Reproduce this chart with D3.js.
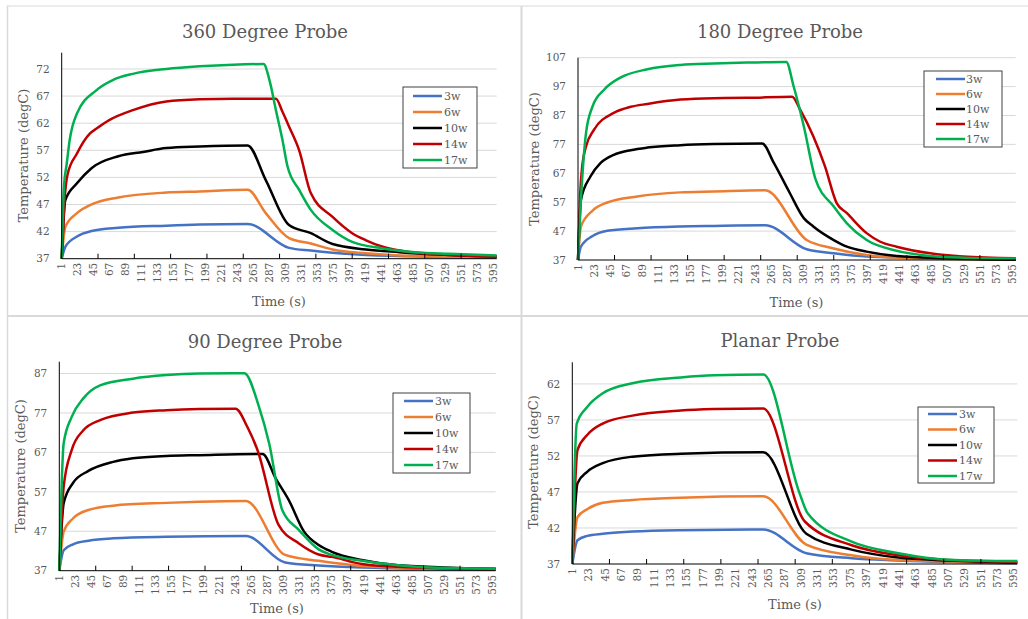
<!DOCTYPE html>
<html><head><meta charset="utf-8">
<script src="https://cdn.jsdelivr.net/npm/d3@7"></script>
<style>
body{margin:0;background:#fff}
svg{display:block}
text{font-family:"DejaVu Serif",serif;fill:#595959}
</style>
</head><body>
<svg id="c" width="1028" height="619"></svg>
<script>
// ---------- data ----------
const seriesNames = ["3w", "6w", "10w", "14w", "17w"];
const seriesColors = ["#4472C4", "#ED7D31", "#000000", "#C00000", "#00B050"];
const xTickLabels = [1,23,45,67,89,111,133,155,177,199,221,243,265,287,309,331,353,375,397,419,441,463,485,507,529,551,573,595];
const xTickMarks = [51,101,151,201,251,301,351,401,451,501,551];
const yTicks360 = [37,42,47,52,57,62,67,72];
const yTicks180 = [37,47,57,67,77,87,97,107];
const yTicks90 = [37,47,57,67,77,87];
const yTicksPlanar = [37,42,47,52,57,62];

// [time (s), temperature (degC)]
const probe360_3w = [[1,37],[6,39.2],[22,41.1],[42,42.1],[79,42.7],[145,43.1],[191,43.3],[257,43.4],[314,39],[344,38.5],[374,38.1],[420,37.7],[600,37.2]];
const probe360_6w = [[1,37],[6,42.9],[22,45.4],[42,47],[79,48.3],[145,49.2],[191,49.4],[257,49.7],[282,45.4],[314,40.8],[344,39.8],[374,38.7],[420,38],[466,37.6],[600,37.25]];
const probe360_10w = [[1,37],[6,47.8],[22,50.9],[42,53.7],[79,55.9],[113,56.7],[145,57.4],[191,57.7],[257,57.9],[282,51.5],[314,43.2],[344,41.7],[374,39.7],[420,38.7],[466,38.2],[511,37.8],[600,37.4]];
const probe360_14w = [[1,37],[5,48],[9,52.5],[22,56.4],[40,60.1],[49,61],[67,62.6],[99,64.4],[145,66],[191,66.4],[237,66.5],[296,66.5],[305,64.1],[314,61.4],[328,57],[344,49.1],[374,44.7],[401,41.7],[420,40.4],[443,39.2],[488,38.1],[534,37.7],[600,37.4]];
const probe360_17w = [[1,37],[4,50],[8,54.6],[12,58.9],[22,63.8],[49,68.1],[72,70],[99,71.1],[145,72],[191,72.5],[237,72.8],[279,72.9],[287,70],[296,64.4],[305,58.9],[312,54],[328,49.7],[344,46],[374,42.3],[401,40.1],[443,38.9],[488,38.2],[534,37.9],[600,37.6]];

const probe180_3w = [[1,37],[5,41.6],[21,45.3],[41,47.1],[82,48],[141,48.6],[187,48.8],[257,49],[314,40.7],[351,39.3],[396,38.2],[600,37.1]];
const probe180_6w = [[1,37],[5,48.6],[21,54.1],[41,56.9],[82,59],[141,60.4],[187,60.7],[257,61.1],[314,43.9],[351,41],[396,38.7],[437,37.8],[600,37.1]];
const probe180_10w = [[1,37],[5,57.8],[18,65.9],[32,70.6],[50,73.4],[73,75],[96,75.9],[141,76.7],[187,77.1],[253,77.3],[269,70.6],[291,60.1],[310,51.5],[323,48.6],[351,43.9],[369,41.6],[396,39.9],[437,38.4],[505,37.6],[600,37.1]];
const probe180_14w = [[1,37],[4,60],[7,70],[12,76.3],[23,82.1],[50,87.9],[73,90],[96,91],[141,92.5],[187,93],[232,93.1],[294,93.5],[305,89],[323,79.8],[339,69.4],[355,56.7],[369,53.2],[396,46.3],[414,43.4],[437,41.6],[483,39.3],[528,38.2],[600,37.6]];
const probe180_17w = [[1,37],[5,57.8],[12,81],[21,90.2],[37,96],[59,100.1],[96,103],[141,104.5],[187,105],[232,105.3],[286,105.5],[296,97.2],[310,83.3],[326,65],[351,55.5],[369,49.7],[396,43.9],[437,40.2],[483,38.4],[528,37.8],[600,37.5]];

const probe90_3w = [[1,37],[7,42.2],[20,43.7],[41,44.6],[75,45.2],[148,45.6],[257,45.8],[311,39.1],[357,38.3],[416,37.8],[600,37.25]];
const probe90_6w = [[1,37],[7,46.9],[20,50.3],[41,52.4],[75,53.5],[148,54.2],[193,54.5],[257,54.7],[311,41],[357,39.5],[416,38.2],[466,37.8],[600,37.3]];
const probe90_10w = [[1,37],[7,54.1],[20,59.3],[41,62.3],[75,64.6],[102,65.5],[148,66.1],[193,66.3],[280,66.6],[298,60.4],[316,54.9],[337,46.9],[357,43.5],[375,41.8],[416,39.7],[466,38.4],[600,37.5]];
const probe90_14w = [[1,37],[7,58.3],[18,67.6],[34,72.6],[57,75.2],[102,77.1],[148,77.7],[193,78],[243,78.1],[259,73.5],[273,67.6],[302,48.6],[330,43.9],[357,41.1],[375,40.5],[416,38.7],[466,38],[600,37.4]];
const probe90_17w = [[1,37],[7,69.3],[18,76],[34,80.7],[57,84],[102,85.7],[148,86.6],[193,87],[255,87.1],[275,78.6],[289,69.3],[307,52.4],[330,47.3],[357,42.4],[375,41],[416,39.5],[466,38.4],[512,37.8],[600,37.5]];

const planar_3w = [[1,37],[8,40.3],[21,40.9],[42,41.2],[82,41.5],[147,41.7],[258,41.8],[316,38.5],[377,37.8],[440,37.5],[600,37.1]];
const planar_6w = [[1,37],[8,43.5],[21,44.6],[42,45.5],[82,45.9],[147,46.2],[258,46.4],[316,39.7],[377,38.2],[440,37.55],[600,37.2]];
const planar_10w = [[1,37],[8,48.2],[21,49.8],[42,51],[82,51.9],[147,52.3],[258,52.5],[316,41.2],[377,39],[440,37.9],[507,37.5],[600,37.2]];
const planar_14w = [[1,37],[8,52.8],[21,54.9],[42,56.5],[82,57.6],[147,58.3],[192,58.5],[258,58.6],[314,42.9],[377,39.6],[440,38.2],[507,37.55],[600,37.3]];
const planar_17w = [[1,37],[7,56.5],[21,58.8],[42,60.7],[82,62.1],[147,62.9],[192,63.2],[258,63.3],[307,46.8],[318,44],[377,40.1],[440,38.5],[507,37.6],[600,37.4]];

// ---------- layout ----------
const panels = [
  {title:"360 Degree Probe", tx:265, ty:38, x0:61.7, x1:496.7, yTop:52.7, yBot:258.7, yMax:75, ticks:yTicks360,
   series:[probe360_3w,probe360_6w,probe360_10w,probe360_14w,probe360_17w],
   leg:{x:403,y:87,w:74,h:81,row0:96,step:16,lx0:413,lx1:442,tx:444}, ytx:23.5, yty:155.5, xtx:279, xty:306},
  {title:"180 Degree Probe", tx:780, ty:38, x0:578, x1:1015.7, yTop:57.7, yBot:260, yMax:107, ticks:yTicks180,
   series:[probe180_3w,probe180_6w,probe180_10w,probe180_14w,probe180_17w],
   leg:{x:924,y:71,w:78,h:76,row0:79,step:15,lx0:936,lx1:965,tx:966}, ytx:534, yty:159, xtx:796.5, xty:307},
  {title:"90 Degree Probe", tx:265, ty:348, x0:59.3, x1:495.7, yTop:361.7, yBot:570.7, yMax:90, ticks:yTicks90,
   series:[probe90_3w,probe90_6w,probe90_10w,probe90_14w,probe90_17w],
   leg:{x:393,y:393,w:77,h:80,row0:401,step:16,lx0:404,lx1:433,tx:435}, ytx:20, yty:466, xtx:277, xty:613},
  {title:"Planar Probe", tx:780, ty:347, x0:572.3, x1:1017.3, yTop:362.3, yBot:564, yMax:65, ticks:yTicksPlanar,
   series:[planar_3w,planar_6w,planar_10w,planar_14w,planar_17w],
   leg:{x:918,y:407,w:76,h:76,row0:414,step:15.5,lx0:928,lx1:957,tx:959}, ytx:533.5, yty:462, xtx:795, xty:609}
];

const svg = d3.select("#c");
svg.append("rect").attr("width",1028).attr("height",619).attr("fill","#fff");

// panel borders
const bc = "#D9D9D9";
svg.append("line").attr("x1",7).attr("x2",1028).attr("y1",6).attr("y2",6).attr("stroke",bc).attr("stroke-width",1.2);
svg.append("line").attr("x1",7).attr("x2",1028).attr("y1",316).attr("y2",316).attr("stroke",bc).attr("stroke-width",2);
svg.append("line").attr("x1",7.5).attr("x2",7.5).attr("y1",6).attr("y2",619).attr("stroke",bc).attr("stroke-width",1.5);
svg.append("line").attr("x1",521.5).attr("x2",521.5).attr("y1",6).attr("y2",619).attr("stroke",bc).attr("stroke-width",2);

panels.forEach(p => {
  const g = svg.append("g");
  const x = d3.scaleLinear().domain([1,600]).range([p.x0,p.x1]);
  const y = d3.scaleLinear().domain([37,p.yMax]).range([p.yBot,p.yTop]);

  // gridlines
  g.selectAll(".grid").data(p.ticks.filter(t=>t>37)).join("line")
    .attr("x1",p.x0).attr("x2",p.x1).attr("y1",d=>y(d)).attr("y2",d=>y(d))
    .attr("stroke","#D9D9D9").attr("stroke-width",1);

  // y tick labels
  g.selectAll(".yl").data(p.ticks).join("text")
    .attr("x",p.x0-12).attr("y",d=>y(d)).attr("dy","0.35em")
    .attr("text-anchor","end").attr("font-size",10.5).text(d=>d);

  // x tick labels
  g.selectAll(".xl").data(xTickLabels).join("text")
    .attr("transform",d=>`translate(${x(d)},${p.yBot+4}) rotate(-90)`)
    .attr("dy","0.35em").attr("text-anchor","end").attr("font-size",10.5).text(d=>d);

  // series lines
  const line = d3.line().x(d=>x(d[0])).y(d=>y(d[1])).curve(d3.curveMonotoneX);
  p.series.forEach((s,i)=>{
    g.append("path").attr("d",line(s)).attr("fill","none")
      .attr("stroke",seriesColors[i]).attr("stroke-width",2.5).attr("stroke-linejoin","round");
  });

  // axes
  g.append("line").attr("x1",p.x0).attr("x2",p.x0).attr("y1",p.yTop).attr("y2",p.yBot)
    .attr("stroke","#000").attr("stroke-width",1);
  g.append("line").attr("x1",p.x0).attr("x2",p.x1).attr("y1",p.yBot).attr("y2",p.yBot)
    .attr("stroke","#000").attr("stroke-width",1);
  g.selectAll(".tm").data(xTickMarks).join("line")
    .attr("x1",d=>x(d)).attr("x2",d=>x(d)).attr("y1",p.yBot).attr("y2",p.yBot-5)
    .attr("stroke","#000").attr("stroke-width",1);

  // titles
  g.append("text").attr("x",p.tx).attr("y",p.ty).attr("text-anchor","middle")
    .attr("font-size",18).text(p.title);
  g.append("text").attr("transform",`translate(${p.ytx},${p.yty}) rotate(-90)`)
    .attr("dy","0.35em").attr("text-anchor","middle").attr("font-size",13).text("Temperature (degC)");
  g.append("text").attr("x",p.xtx).attr("y",p.xty).attr("text-anchor","middle")
    .attr("font-size",13).text("Time (s)");

  // legend
  const L = p.leg;
  g.append("rect").attr("x",L.x).attr("y",L.y).attr("width",L.w).attr("height",L.h)
    .attr("fill","#fff").attr("stroke","#404040").attr("stroke-width",1);
  seriesNames.forEach((n,i)=>{
    const ry = L.row0 + i*L.step;
    g.append("line").attr("x1",L.lx0).attr("x2",L.lx1).attr("y1",ry).attr("y2",ry)
      .attr("stroke",seriesColors[i]).attr("stroke-width",2.5);
    g.append("text").attr("x",L.tx).attr("y",ry).attr("dy","0.35em")
      .attr("font-size",11).text(n);
  });
});
</script>
</body></html>
